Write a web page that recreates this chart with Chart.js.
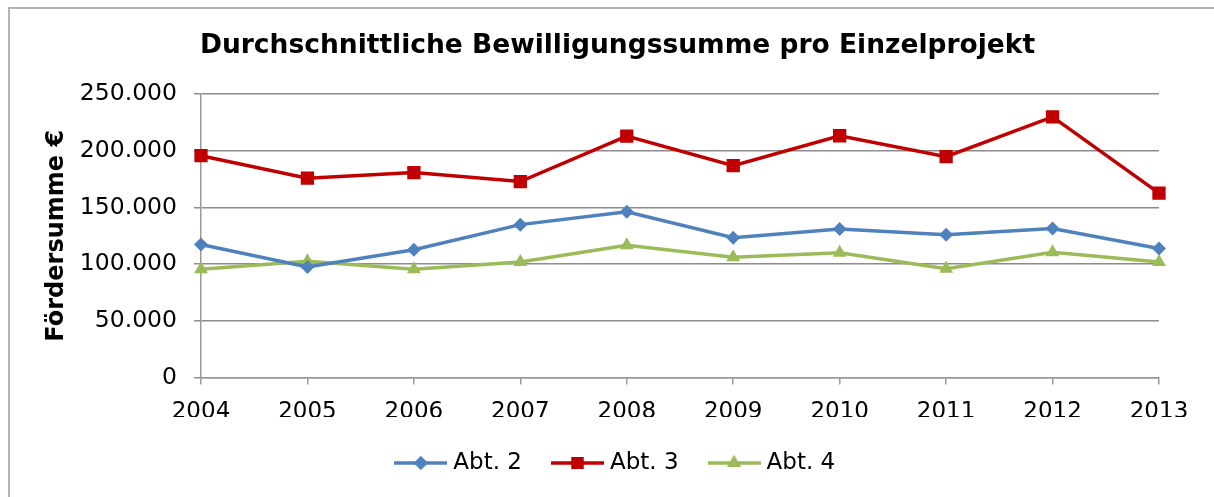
<!DOCTYPE html>
<html>
<head>
<meta charset="utf-8">
<script src="https://cdn.jsdelivr.net/npm/chart.js@4/dist/chart.umd.min.js"></script>
<style>
  html, body { margin: 0; padding: 0; background: #fff; }
  #wrap { position: relative; width: 1214px; height: 497px; overflow: hidden; }
  #frame { position: absolute; left: 8px; top: 7px; width: 1230px; height: 520px; border: 2px solid #b4b4b4; box-sizing: border-box; }
  canvas { position: absolute; left: 0; top: 0; }
</style>
</head>
<body>
<div id="wrap">
  <div id="frame"></div>
  <canvas id="c" width="1214" height="497"></canvas>
</div>
<script>
const titleText = 'Durchschnittliche Bewilligungssumme pro Einzelprojekt';
const yAxisTitle = 'Fördersumme €';
const years = ['2004','2005','2006','2007','2008','2009','2010','2011','2012','2013'];
const abt2 = [117300, 97400, 112600, 134800, 146200, 123200, 131000, 125800, 131300, 113800];
const abt3 = [195600, 175800, 180700, 172800, 212900, 186800, 213200, 194700, 229800, 162600];
const abt4 = [95400, 102600, 95400, 101800, 116700, 106100, 110000, 96000, 110500, 101800];
const seriesNames = ['Abt. 2', 'Abt. 3', 'Abt. 4'];
const yMin = 0, yMax = 250000, yStep = 50000;

const FONT = 'DejaVu Sans, Verdana, sans-serif';
const colors = ['#4F81BD', '#C00000', '#9BBB59'];
const styles = ['rectRot', 'rect', 'triangle'];
const radii = [7, 9.4, 8];

function fmt(v) {
  return String(Math.round(v)).replace(/\B(?=(\d{3})+(?!\d))/g, '.');
}

function makeIcon(color, style, r) {
  const cv = document.createElement('canvas');
  cv.width = 53; cv.height = 22;
  const g = cv.getContext('2d');
  g.strokeStyle = color; g.lineWidth = 3.5;
  g.beginPath(); g.moveTo(0, 11); g.lineTo(53, 11); g.stroke();
  g.fillStyle = color;
  Chart.helpers.drawPoint(g, {pointStyle: style, radius: r, rotation: 0, borderWidth: 0}, 26.5, 11);
  g.fill();
  return cv;
}

const datasets = [abt2, abt3, abt4].map((d, i) => ({
  label: seriesNames[i],
  data: d,
  borderColor: colors[i],
  backgroundColor: colors[i],
  borderWidth: 3.5,
  pointStyle: styles[i],
  pointRadius: radii[i],
  pointHoverRadius: radii[i],
  pointBorderWidth: 0,
  tension: 0
}));

const icons = datasets.map((d, i) => makeIcon(colors[i], styles[i], i === 1 ? 8.5 : radii[i]));

const PAD_LEFT = 76;

new Chart(document.getElementById('c'), {
  type: 'line',
  data: { labels: years, datasets },
  options: {
    responsive: false,
    animation: false,
    devicePixelRatio: 1,
    layout: { padding: { left: PAD_LEFT, right: 55, top: 0, bottom: 12.5 } },
    plugins: {
      title: {
        display: true,
        text: titleText,
        color: '#000',
        font: { family: FONT, size: 26.5, weight: 'bold' },
        padding: { top: 30.1, bottom: 32.1 }
      },
      legend: {
        position: 'bottom',
        labels: {
          color: '#000',
          font: { family: FONT, size: 23 },
          usePointStyle: true,
          pointStyleWidth: 42,
          padding: 34.5,
          generateLabels: (chart) => {
            const items = Chart.defaults.plugins.legend.labels.generateLabels(chart);
            items.forEach((it, i) => { it.pointStyle = icons[i]; });
            return items;
          }
        }
      },
      tooltip: { enabled: false }
    },
    scales: {
      x: {
        offset: false,
        grid: { display: true, drawOnChartArea: false, drawTicks: true, tickLength: 7, color: '#9a9a9a', lineWidth: 1.5 },
        border: { display: true, color: '#9a9a9a', width: 1.5 },
        ticks: { color: '#000', font: { family: FONT, size: 23 }, padding: 13.5, maxRotation: 0, autoSkip: false },
        afterFit: (s) => { s.height = 39.5; }
      },
      y: {
        min: yMin, max: yMax,
        grid: { color: '#8c8c8c', lineWidth: 1.5, tickLength: 7, drawTicks: true },
        border: { display: true, color: '#9a9a9a', width: 1.5 },
        ticks: { stepSize: yStep, color: '#000', font: { family: FONT, size: 23.5 }, padding: 17, callback: (v) => fmt(v) },
        title: { display: true, text: yAxisTitle, color: '#000', font: { family: FONT, size: 24, weight: 'bold' }, padding: { top: 57 - PAD_LEFT - 14.4, bottom: 0 } },
        afterFit: (s) => { s.width = 201 - PAD_LEFT; }
      }
    }
  }
});
</script>
</body>
</html>
